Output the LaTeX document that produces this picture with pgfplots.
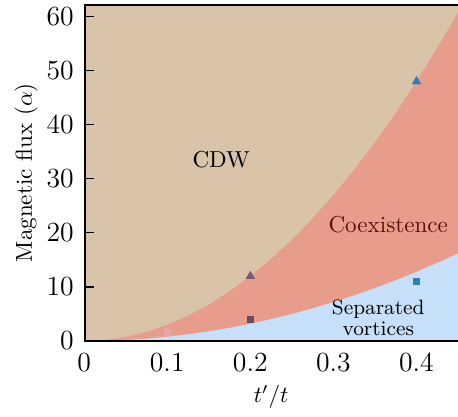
\documentclass[border={3pt 0pt 0pt 0pt}]{standalone}
\usepackage{pgfplots}
\pgfplotsset{compat=1.18}
\definecolor{cdw}{HTML}{D9C4AA}
\definecolor{coex}{HTML}{E89C8C}
\definecolor{sep}{HTML}{C5E0F8}
\definecolor{mblue}{HTML}{2F7FB5}
\definecolor{mpurp}{HTML}{7A5A78}
\definecolor{mdark}{HTML}{6B4A5E}
\definecolor{mpink}{HTML}{EBA6A8}
\definecolor{coextext}{HTML}{5A1010}
\begin{document}
\begin{tikzpicture}
\begin{axis}[
  scale only axis,
  width=162pt, height=146pt,
  xmin=0, xmax=0.45, ymin=0, ymax=62.3,
  xtick={0,0.1,0.2,0.3,0.4},
  xticklabels={0,0.1,0.2,0.3,0.4},
  ytick={0,10,20,30,40,50,60},
  tick label style={font=\large},
  xticklabel style={yshift=-1.5pt},
  yticklabel style={xshift=-1pt},
  tick align=inside,
  major tick length=4.3pt,
  tick style={black, line width=0.5pt},
  xtick pos=bottom, ytick pos=left,
  axis line style={draw=none},
  axis background/.style={fill=cdw},
  xlabel={$t'/t$},
  ylabel={Magnetic flux ($\alpha$)},
  xlabel style={yshift=1pt},
  ylabel style={yshift=-3pt},
  clip=true,
]
\addplot[fill=coex, draw=none] coordinates {
(0,0) (0.025,0.19) (0.05,0.75) (0.075,1.69) (0.1,3) (0.125,4.69) (0.15,6.75) (0.175,9.19) (0.2,12) (0.225,15.19) (0.25,18.75) (0.275,22.69) (0.3,27) (0.325,31.69) (0.35,36.75) (0.375,42.19) (0.4,48) (0.425,54.19) (0.45,60.75) (0.45,0)
} -- cycle;
\addplot[fill=sep, draw=none] coordinates {
(0,0) (0.025,0.05) (0.05,0.2) (0.075,0.45) (0.1,0.8) (0.125,1.25) (0.15,1.8) (0.175,2.45) (0.2,3.2) (0.225,4.05) (0.25,5) (0.275,6.05) (0.3,7.2) (0.325,8.45) (0.35,9.8) (0.375,11.25) (0.4,12.8) (0.425,14.45) (0.45,16.2) (0.45,0)
} -- cycle;
\addplot[only marks, mark=triangle*, mark size=2pt, color=mpurp] coordinates {(0.2,12)};
\addplot[only marks, mark=triangle*, mark size=2pt, color=mblue] coordinates {(0.4,48)};
\addplot[only marks, mark=square*, mark size=1.4pt, color=mdark] coordinates {(0.2,4)};
\addplot[only marks, mark=square*, mark size=1.4pt, color=mpink] coordinates {(0.1,1.6)};
\addplot[only marks, mark=square*, mark size=1.4pt, color=mblue] coordinates {(0.4,11)};
\node at (axis cs:0.165,33.5) {CDW};
\node[text=coextext] at (axis cs:0.366,21.5) {Coexistence};
\node[font=\small, align=center, inner sep=0pt] at (axis cs:0.354,4.3) {Separated\\[-2pt]vortices};
\draw[line width=1.3pt] (rel axis cs:1,1) -- (rel axis cs:0,1) -- (rel axis cs:0,0) -- (rel axis cs:1,0);
\end{axis}
\end{tikzpicture}
\end{document}
